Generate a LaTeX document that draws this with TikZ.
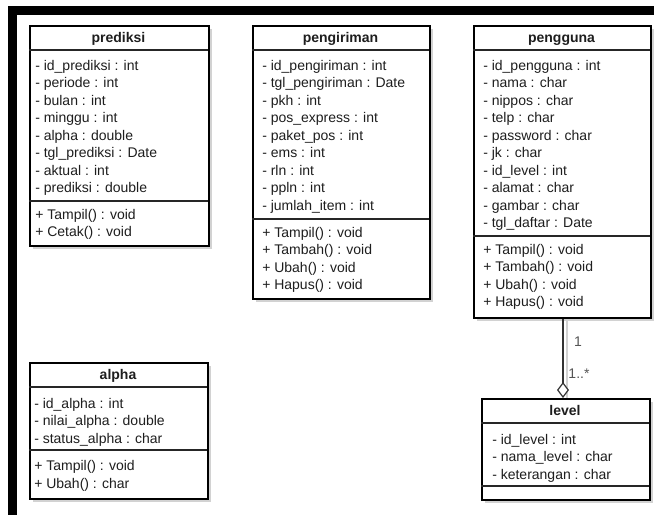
\documentclass[tikz,border=0pt]{standalone}
\usepackage{fontspec}
\setmainfont{Liberation Sans}
\usetikzlibrary{arrows.meta}
\definecolor{shadowc}{HTML}{D2D2D2}
\definecolor{txt}{HTML}{1E1E1E}
\definecolor{multc}{HTML}{555555}
\tikzset{
  boxframe/.style={draw=black, fill=white, line width=1.8pt, inner sep=0pt, anchor=north west},
  sepline/.style={draw=black!85, line width=0.9pt},
  titletext/.style={font=\fontsize{10.5}{12}\selectfont\bfseries, text=txt, anchor=base, inner sep=0pt},
  rowtext/.style={font=\fontsize{10.5}{12}\selectfont, text=txt, anchor=base west, inner sep=0pt},
  mult/.style={font=\fontsize{10.5}{12}\selectfont, text=multc, inner sep=0pt},
  assoc/.style={draw=black!80, line width=0.9pt, -{Diamond[open, length=12pt, width=9pt, line width=0.9pt, fill=white]}}
}
% #1 name, #2 left, #3 top, #4 right, #5 bottom, #6 second separator, #7 title
\newcommand{\umlclass}[7]{%
  \fill[shadowc] (#2+4,#3+4) rectangle (#4+4,#5+4);
  \node[boxframe, minimum width={(#4-#2)*0.75pt}, minimum height={(#5-#3)*0.75pt}] (#1) at (#2,#3) {};
  \draw[sepline] (#2,#3+25) -- (#4,#3+25);
  \draw[sepline] (#2,#6) -- (#4,#6);
  \node[titletext] (#1-title) at ({(#2+#4)/2},#3+17) {#7};
}
% #1 name prefix, #2 x, #3 first row centre y, #4 list
\newcommand{\umlrows}[4]{%
  \foreach \t [count=\i from 0] in {#4} {
    \node[rowtext] (#1-\i) at (#2,{#3+\i*17.5+5}) {\t};
  }
}
\begin{document}
\begin{tikzpicture}[x=0.75pt,y=-0.75pt]
\useasboundingbox (0,0) rectangle (654,515);
% black frame
\fill[black] (8,6) rectangle (654,15);
\fill[black] (8,6) rectangle (17,515);

% prediksi
\umlclass{prediksi}{29}{25}{208}{245}{201}{prediksi}
\umlrows{prediksi-a}{35}{65}{- id\_prediksi : int, - periode : int, - bulan : int, - minggu : int, - alpha : double, - tgl\_prediksi : Date, - aktual : int, - prediksi : double}
\umlrows{prediksi-m}{35}{214}{+ Tampil() : void, + Cetak() : void}

% pengiriman
\umlclass{pengiriman}{252}{25}{429}{298}{219}{pengiriman}
\umlrows{pengiriman-a}{262}{65}{- id\_pengiriman : int, - tgl\_pengiriman : Date, - pkh : int, - pos\_express : int, - paket\_pos : int, - ems : int, - rln : int, - ppln : int, - jumlah\_item : int}
\umlrows{pengiriman-m}{262}{232}{+ Tampil() : void, + Tambah() : void, + Ubah() : void, + Hapus() : void}

% pengguna
\umlclass{pengguna}{473}{25}{650}{317}{236}{pengguna}
\umlrows{pengguna-a}{483}{65}{- id\_pengguna : int, - nama : char, - nippos : char, - telp : char, - password : char, - jk : char, - id\_level : int, - alamat : char, - gambar : char, - tgl\_daftar : Date}
\umlrows{pengguna-m}{483}{249}{+ Tampil() : void, + Tambah() : void, + Ubah() : void, + Hapus() : void}

% alpha
\umlclass{alpha}{29}{362}{207}{498}{450}{alpha}
\umlrows{alpha-a}{34}{403}{- id\_alpha : int, - nilai\_alpha : double, - status\_alpha : char}
\umlrows{alpha-m}{34}{465.5}{+ Tampil() : void, + Ubah() : char}

% level
\umlclass{level}{481}{398}{649}{499}{486}{level}
\umlrows{level-a}{492}{439}{- id\_level : int, - nama\_level : char, - keterangan : char}

% association pengguna -- level (aggregation)
\coordinate (cx) at (563,0);
\coordinate (cxs) at (567,0);
\draw[shadowc, line width=1pt] (pengguna.south -| cxs) -- (level.north -| cxs);
\draw[assoc] (pengguna.south -| cx) -- (level.north -| cx);
\node[mult] (m1) at (578,342) {1};
\node[mult] (m2) at (579,374) {1..*};
\end{tikzpicture}
\end{document}
